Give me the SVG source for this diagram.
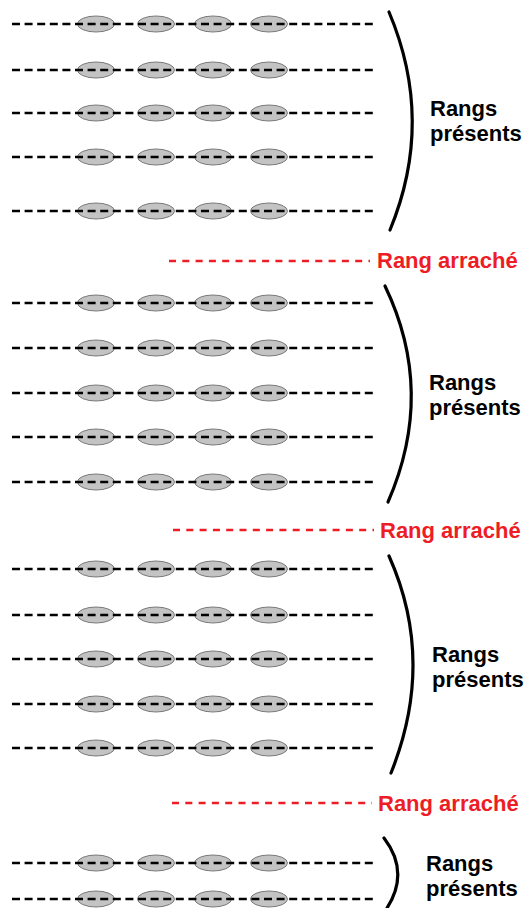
<svg xmlns="http://www.w3.org/2000/svg" width="526" height="908" viewBox="0 0 526 908">
<defs>
<style>
.bg{fill:#ffffff}
.row{stroke:#000;stroke-width:2.5;stroke-dasharray:8 4.6;fill:none}
.seed{fill:#c3c3c3;stroke:#7a7a7a;stroke-width:1}
.torn{stroke:#ee1c25;stroke-width:2.5;stroke-dasharray:7 6.3;fill:none}
.brace{stroke:#000;stroke-width:3.2;fill:none;stroke-linecap:round}
.lbl{font-family:"Liberation Sans",Arial,sans-serif;font-weight:bold;font-size:22px;fill:#000}
.red{font-family:"Liberation Sans",Arial,sans-serif;font-weight:bold;font-size:22px;fill:#ee1c25}
</style>
<g id="seedrow">
<ellipse class="seed" cx="96" cy="0" rx="18.5" ry="8"/>
<ellipse class="seed" cx="156" cy="0" rx="18.5" ry="8"/>
<ellipse class="seed" cx="213" cy="0" rx="18.5" ry="8"/>
<ellipse class="seed" cx="269" cy="0" rx="18.5" ry="8"/>
<line class="row" x1="12" y1="0" x2="373" y2="0"/>
</g>
</defs>
<rect class="bg" x="0" y="0" width="526" height="908"/>

<g id="group1">
<use href="#seedrow" y="24"/>
<use href="#seedrow" y="70"/>
<use href="#seedrow" y="113"/>
<use href="#seedrow" y="157"/>
<use href="#seedrow" y="211"/>
<path class="brace" d="M389,12 Q435,121 390,230"/>
<text class="lbl" x="430" y="116">Rangs</text>
<text class="lbl" x="430" y="141">présents</text>
</g>

<g id="torn1">
<line class="torn" x1="169" y1="261" x2="370" y2="261"/>
<text class="red" x="377" y="268">Rang arraché</text>
</g>

<g id="group2">
<use href="#seedrow" y="303"/>
<use href="#seedrow" y="348"/>
<use href="#seedrow" y="393"/>
<use href="#seedrow" y="437"/>
<use href="#seedrow" y="482"/>
<path class="brace" d="M385,286 Q436,392 388,502"/>
<text class="lbl" x="429" y="390">Rangs</text>
<text class="lbl" x="429" y="415">présents</text>
</g>

<g id="torn2">
<line class="torn" x1="173" y1="530" x2="374" y2="530"/>
<text class="red" x="380" y="538">Rang arraché</text>
</g>

<g id="group3">
<use href="#seedrow" y="569"/>
<use href="#seedrow" y="615"/>
<use href="#seedrow" y="659"/>
<use href="#seedrow" y="704"/>
<use href="#seedrow" y="748"/>
<path class="brace" d="M389,556 Q436,661 391,773"/>
<text class="lbl" x="432" y="662">Rangs</text>
<text class="lbl" x="432" y="687">présents</text>
</g>

<g id="torn3">
<line class="torn" x1="172" y1="803" x2="372" y2="803"/>
<text class="red" x="378" y="811">Rang arraché</text>
</g>

<g id="group4">
<use href="#seedrow" y="863"/>
<use href="#seedrow" y="899"/>
<path class="brace" d="M384,838 Q410,872 387,908"/>
<text class="lbl" x="426" y="871">Rangs</text>
<text class="lbl" x="426" y="896">présents</text>
</g>
</svg>
